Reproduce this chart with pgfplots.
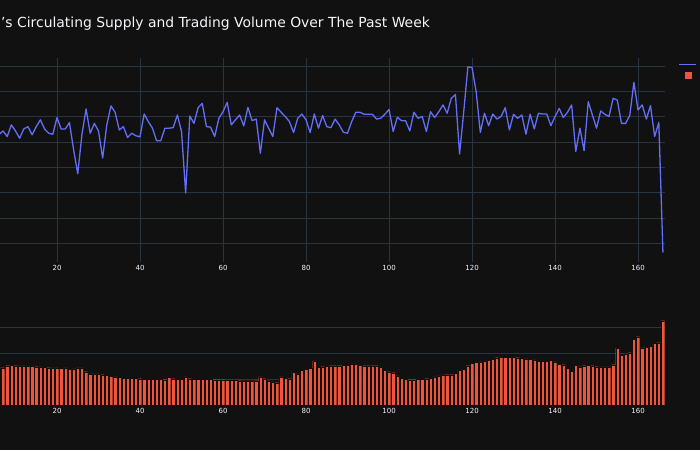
\documentclass[border=0pt]{standalone}
\usepackage{fontspec}
\setmainfont{DejaVu Sans}
\usepackage{pgfplots}
\usepackage{pgfplotstable}
\pgfplotsset{compat=1.18}
\definecolor{bg}{HTML}{111111}
\definecolor{gridc}{HTML}{283442}
\definecolor{linec}{HTML}{636EFA}
\definecolor{barc}{HTML}{EF553B}
\definecolor{txt}{HTML}{F2F5FA}

\pgfplotstableread[row sep=\\]{
n v\\
6 4.29\\ 7 4.44\\ 8 4.22\\ 9 4.68\\ 10 4.44\\ 11 4.15\\ 12 4.52\\ 13 4.61\\ 14 4.29\\ 15 4.61\\
16 4.88\\ 17 4.52\\ 18 4.35\\ 19 4.31\\ 20 4.97\\ 21 4.52\\ 22 4.52\\ 23 4.77\\ 24 3.70\\ 25 2.75\\
26 4.29\\ 27 5.31\\ 28 4.35\\ 29 4.74\\ 30 4.44\\ 31 3.37\\ 32 4.68\\ 33 5.43\\ 34 5.18\\ 35 4.48\\
36 4.61\\ 37 4.18\\ 38 4.35\\ 39 4.25\\ 40 4.21\\ 41 5.11\\ 42 4.81\\ 43 4.55\\ 44 4.05\\ 45 4.05\\
46 4.55\\ 47 4.55\\ 48 4.57\\ 49 5.07\\ 50 4.42\\ 51 1.99\\ 52 5.03\\ 53 4.74\\ 54 5.36\\ 55 5.53\\
56 4.61\\ 57 4.59\\ 58 4.22\\ 59 4.94\\ 60 5.20\\ 61 5.57\\ 62 4.68\\ 63 4.88\\ 64 5.07\\ 65 4.64\\
66 5.37\\ 67 4.85\\ 68 4.91\\ 69 3.56\\ 70 4.88\\ 71 4.55\\ 72 4.22\\ 73 5.36\\ 74 5.18\\ 75 5.01\\
76 4.81\\ 77 4.38\\ 78 4.94\\ 79 5.11\\ 80 4.88\\ 81 4.38\\ 82 5.11\\ 83 4.55\\ 84 5.05\\ 85 4.61\\
86 4.57\\ 87 4.91\\ 88 4.68\\ 89 4.39\\ 90 4.35\\ 91 4.81\\ 92 5.18\\ 93 5.18\\ 94 5.10\\ 95 5.10\\
96 5.10\\ 97 4.91\\ 98 4.94\\ 99 5.10\\ 100 5.29\\ 101 4.42\\ 102 4.98\\ 103 4.85\\ 104 4.84\\ 105 4.44\\
106 5.18\\ 107 4.94\\ 108 5.01\\ 109 4.42\\ 110 5.20\\ 111 4.97\\ 112 5.20\\ 113 5.47\\ 114 5.14\\ 115 5.73\\
116 5.88\\ 117 3.53\\ 118 5.20\\ 119 6.97\\ 120 6.95\\ 121 5.99\\ 122 4.38\\ 123 5.14\\ 124 4.65\\ 125 5.11\\
126 4.91\\ 127 5.01\\ 128 5.36\\ 129 4.48\\ 130 5.10\\ 131 4.94\\ 132 5.07\\ 133 4.31\\ 134 5.10\\ 135 4.52\\
136 5.14\\ 137 5.11\\ 138 5.11\\ 139 4.65\\ 140 5.01\\ 141 5.33\\ 142 4.97\\ 143 5.18\\ 144 5.47\\ 145 3.63\\
146 4.55\\ 147 3.66\\ 148 5.60\\ 149 5.07\\ 150 4.55\\ 151 5.23\\ 152 5.10\\ 153 5.01\\ 154 5.73\\ 155 5.66\\
156 4.74\\ 157 4.74\\ 158 5.05\\ 159 6.36\\ 160 5.27\\ 161 5.47\\ 162 4.91\\ 163 5.44\\ 164 4.22\\ 165 4.78\\
166 -0.37\\
}\supply

\pgfplotstableread[row sep=\\]{
n v\\
6 1.44\\ 7 1.44\\ 8 1.52\\ 9 1.53\\ 10 1.52\\ 11 1.51\\ 12 1.51\\ 13 1.49\\ 14 1.49\\ 15 1.48\\
16 1.47\\ 17 1.45\\ 18 1.44\\ 19 1.43\\ 20 1.43\\ 21 1.42\\ 22 1.43\\ 23 1.39\\ 24 1.40\\ 25 1.43\\
26 1.43\\ 27 1.29\\ 28 1.20\\ 29 1.20\\ 30 1.20\\ 31 1.17\\ 32 1.15\\ 33 1.12\\ 34 1.09\\ 35 1.07\\
36 1.04\\ 37 1.03\\ 38 1.03\\ 39 1.03\\ 40 1.02\\ 41 1.00\\ 42 1.00\\ 43 0.99\\ 44 0.99\\ 45 0.99\\
46 0.98\\ 47 1.06\\ 48 1.02\\ 49 1.00\\ 50 1.00\\ 51 1.09\\ 52 1.02\\ 53 1.00\\ 54 1.00\\ 55 0.99\\
56 0.99\\ 57 0.99\\ 58 0.98\\ 59 0.98\\ 60 0.98\\ 61 0.97\\ 62 0.95\\ 63 0.95\\ 64 0.94\\ 65 0.93\\
66 0.93\\ 67 0.93\\ 68 0.94\\ 69 1.09\\ 70 1.02\\ 71 0.93\\ 72 0.89\\ 73 0.86\\ 74 1.09\\ 75 1.03\\
76 1.02\\ 77 1.27\\ 78 1.20\\ 79 1.33\\ 80 1.38\\ 81 1.42\\ 82 1.71\\ 83 1.45\\ 84 1.48\\ 85 1.49\\
86 1.52\\ 87 1.52\\ 88 1.52\\ 89 1.54\\ 90 1.54\\ 91 1.57\\ 92 1.57\\ 93 1.54\\ 94 1.52\\ 95 1.52\\
96 1.52\\ 97 1.52\\ 98 1.45\\ 99 1.33\\ 100 1.29\\ 101 1.25\\ 102 1.13\\ 103 1.03\\ 104 0.99\\ 105 0.98\\
106 0.98\\ 107 0.99\\ 108 1.00\\ 109 1.02\\ 110 1.04\\ 111 1.09\\ 112 1.13\\ 113 1.16\\ 114 1.17\\ 115 1.17\\
116 1.22\\ 117 1.33\\ 118 1.38\\ 119 1.52\\ 120 1.61\\ 121 1.65\\ 122 1.67\\ 123 1.70\\ 124 1.72\\ 125 1.76\\
126 1.83\\ 127 1.85\\ 128 1.85\\ 129 1.84\\ 130 1.84\\ 131 1.83\\ 132 1.80\\ 133 1.78\\ 134 1.76\\ 135 1.74\\
136 1.70\\ 137 1.69\\ 138 1.69\\ 139 1.72\\ 140 1.67\\ 141 1.58\\ 142 1.56\\ 143 1.42\\ 144 1.31\\ 145 1.54\\
146 1.47\\ 147 1.52\\ 148 1.53\\ 149 1.52\\ 150 1.48\\ 151 1.47\\ 152 1.47\\ 153 1.47\\ 154 1.56\\ 155 2.20\\
156 1.93\\ 157 1.97\\ 158 2.02\\ 159 2.54\\ 160 2.64\\ 161 2.21\\ 162 2.23\\ 163 2.27\\ 164 2.38\\ 165 2.41\\
166 3.26\\
}\volume

\pgfplotsset{
  darkaxis/.style={
    anchor=south west, scale only axis, width=664.6pt,
    xmin=6.265, xmax=166.4,
    axis line style={draw=none}, major tick length=0pt,
    xtick={20,40,...,160},
    yticklabels={},
    major grid style={gridc, line width=0.6pt},
    tick label style={font=\fontsize{7}{8}\selectfont, text=txt},
    /pgf/number format/assume math mode=true,
  }
}

\begin{document}
\begin{tikzpicture}[x=1pt,y=1pt]
\useasboundingbox (0,0) rectangle (700,450);
\fill[bg] (0,0) rectangle (700,450);
\node[anchor=base east, font=\fontsize{13.9}{16}\selectfont, text=txt, inner sep=0pt] at (430,422.5) {’s Circulating Supply and Trading Volume Over The Past Week};

\begin{axis}[darkaxis, at={(0pt,188pt)}, height=204.4pt,
  ymin=-0.74, ymax=7.34, ytick={0,...,7}, grid=major,
  legend style={at={(1.0205,0.98)}, anchor=north west, draw=none, fill=none,
    inner sep=0pt, row sep=5pt, font=\fontsize{7}{8}\selectfont, text=txt},
  legend cell align=left]
\addplot[linec, line width=1.3pt, line join=round] table[x=n, y=v] {\supply};
\addlegendentry{}
\addlegendimage{legend image code/.code={\fill[barc] (0.21cm,-3pt) rectangle (0.42cm,3pt);}}
\addlegendentry{}
\end{axis}

\begin{axis}[darkaxis, at={(0pt,45pt)}, height=88.5pt,
  ymin=0, ymax=3.42, ytick={0,1,2,3}, ymajorgrids,
  ybar, bar width=0.8]
\addplot[fill=barc, draw=bg, line width=0.2pt] table[x=n, y=v] {\volume};
\end{axis}
\end{tikzpicture}
\end{document}
